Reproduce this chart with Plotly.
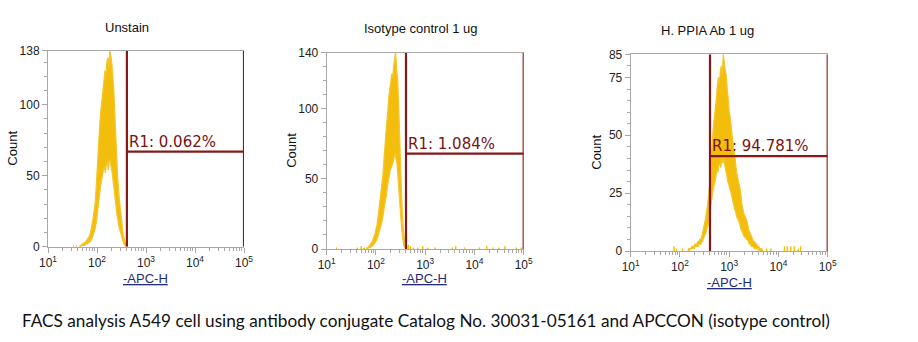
import plotly.graph_objects as go

W, H = 918, 342

# ---------------- data ----------------
TITLES = ["Unstain", "Isotype control 1 ug", "H. PPIA Ab 1 ug"]
GATE_LABELS = ["R1: 0.062%", "R1: 1.084%", "R1: 94.781%"]
Y_MAX = [138, 140, 85]
Y_TICKS = [[0, 50, 100, 138], [0, 50, 100, 140], [0, 25, 50, 75, 85]]
Y_MINOR = [10, 10, 5]
X_TICK_VALS = [10, 100, 1000, 10000, 100000]
X_TICK_TEXT = ["10<sup>1</sup>", "10<sup>2</sup>", "10<sup>3</sup>", "10<sup>4</sup>", "10<sup>5</sup>"]
X_TITLE = "-APC-H"
Y_TITLE = "Count"
CAPTION = "FACS analysis A549 cell using antibody conjugate Catalog No. 30031-05161 and APCCON (isotype control)"

GATE_LOG = [2.61, 2.61, 2.61]      # log10 of gate left edge
GATE_END = 100000                   # gate right edge
GATE_LEVEL = [67, 68, 41]

BIN_STEP = 0.01  # decades per channel

# panel 1 (Unstain)
P1_START = 1.64
P1_UPPER = [0, 1, 1, 2, 2, 3, 3, 4, 5, 6,
            7, 9, 12, 16, 20, 25, 30, 40, 52, 64,
            76, 88, 96, 103, 109, 116, 124, 120, 130, 133,
            126, 138, 135, 130, 122, 112, 98, 80, 66, 50,
            40, 32, 26, 20, 13, 8, 5, 2, 1, 0]
P1_LOWER = [0, 0, 1, 1, 1, 1, 2, 2, 2, 3,
            3, 4, 5, 7, 9, 11, 14, 18, 24, 30,
            36, 42, 46, 50, 54, 56, 52, 58, 60, 54,
            62, 60, 56, 52, 46, 40, 34, 28, 22, 18,
            14, 11, 9, 6, 4, 2, 1, 0, 0]
P1_TAIL_LOG = [1.52, 1.58]
P1_TAIL_CNT = [1, 1]

# panel 2 (Isotype control)
P2_START = 1.80
P2_UPPER = [0, 1, 1, 2, 3, 4, 5, 7, 9, 11,
            14, 17, 22, 28, 34, 40, 46, 52, 62, 72,
            82, 90, 98, 108, 114, 118, 125, 122, 130, 136,
            140, 128, 122, 104, 82, 60, 40, 22, 12, 5,
            2, 3, 1]
P2_LOWER = [0, 0, 1, 1, 1, 2, 2, 3, 4, 5,
            6, 8, 10, 13, 15, 18, 21, 25, 30, 34,
            38, 44, 48, 52, 56, 58, 60, 62, 66, 68,
            64, 60, 50, 40, 30, 20, 12, 6, 2, 1,
            1, 0]
P2_TAIL_LOG = [1.20, 1.62, 1.70, 1.76, 2.66, 2.70, 2.76, 2.85, 2.95, 3.05, 3.20,
               3.55, 3.62, 3.80, 4.10, 4.25, 4.38, 4.50, 4.62, 4.85, 4.95]
P2_TAIL_CNT = [1, 1, 2, 1, 3, 2, 1, 1, 2, 1, 1,
               1, 2, 1, 1, 2, 1, 1, 2, 1, 1]

# panel 3 (H. PPIA Ab)
P3_START = 2.16
P3_UPPER = [0, 1, 1, 1, 2, 2, 2, 3, 3, 3,
            4, 4, 5, 5, 6, 8, 10, 12, 14, 17,
            20, 24, 28, 34, 42, 48, 54, 58, 62, 66,
            72, 75, 72, 78, 80, 76, 85, 82, 78, 76,
            70, 66, 60, 58, 54, 50, 46, 43, 40, 36,
            33, 31, 29, 27, 24, 20, 18, 16, 15, 14,
            13, 11, 9, 8, 7, 6, 5, 4, 4, 3,
            3, 2, 2, 1, 1, 1, 0, 0]
P3_LOWER = [0, 0, 1, 1, 1, 1, 1, 2, 2, 2,
            2, 3, 3, 3, 4, 5, 6, 7, 8, 10,
            11, 13, 16, 20, 23, 26, 28, 30, 32, 35,
            34, 37, 38, 36, 40, 38, 40, 37, 35, 33,
            30, 29, 27, 26, 24, 22, 20, 18, 17, 15,
            14, 13, 12, 10, 9, 8, 7, 6, 6, 5,
            5, 4, 3, 3, 2, 2, 2, 1, 1, 1,
            1, 1, 0, 0, 0, 0, 0]
P3_TAIL_LOG = [1.88, 1.93, 2.05, 3.76, 3.85, 4.12, 4.18, 4.25, 4.32, 4.40, 4.45]
P3_TAIL_CNT = [2, 1, 1, 1, 1, 2, 2, 2, 2, 1, 2]

PANELS = [
    (P1_START, P1_UPPER, P1_LOWER, P1_TAIL_LOG, P1_TAIL_CNT),
    (P2_START, P2_UPPER, P2_LOWER, P2_TAIL_LOG, P2_TAIL_CNT),
    (P3_START, P3_UPPER, P3_LOWER, P3_TAIL_LOG, P3_TAIL_CNT),
]

# ---------------- layout geometry (pixels) ----------------
BOXES = [(48, 244, 50.7, 246.7), (326.7, 523.7, 52.7, 249), (630.7, 827.7, 54.3, 251)]
TITLE_POS = [(127, 27), (420, 28.5), (707, 30)]
XTITLE_POS = [(145, 278), (424, 278), (729, 282)]
YTITLE_X = [13, 292, 597]

HIST_COLOR = "#F3BD0C"
EDGE_COLOR = "#F6C52A"
GATE_COLOR = "#861818"
AXIS_COLOR = "#A8A8A8"


def px(x):
    return x / W


def py(y):
    return 1 - y / H


def env_xy(start, vals, offset):
    return [10 ** (start + 2 * BIN_STEP * i + offset) for i in range(len(vals))], list(vals)


def tail_xy(logs, cnts):
    xs, ys = [], []
    for p, c in zip(logs, cnts):
        xs += [10 ** (p - 0.006), 10 ** p, 10 ** (p + 0.006), None]
        ys += [0, c, 0, None]
    return xs, ys


fig = go.Figure()
annotations = []

for k, (start, up, lo, tl, tc) in enumerate(PANELS):
    xa = "x" if k == 0 else f"x{k+1}"
    ya = "y" if k == 0 else f"y{k+1}"
    lx, ly = env_xy(start, lo, BIN_STEP)
    ux, uy = env_xy(start, up, 0)
    fig.add_trace(go.Scatter(x=lx, y=ly, mode="lines", xaxis=xa, yaxis=ya,
                             line=dict(color=EDGE_COLOR, width=1.2, simplify=False),
                             showlegend=False, hoverinfo="skip"))
    fig.add_trace(go.Scatter(x=ux, y=uy, mode="lines", xaxis=xa, yaxis=ya,
                             fill="tonexty", fillcolor=HIST_COLOR,
                             line=dict(color=EDGE_COLOR, width=1.2, simplify=False),
                             showlegend=False, hoverinfo="skip"))
    txs, tys = tail_xy(tl, tc)
    fig.add_trace(go.Scatter(x=txs, y=tys, mode="lines", xaxis=xa, yaxis=ya,
                             line=dict(color=HIST_COLOR, width=1, simplify=False),
                             showlegend=False, hoverinfo="skip"))
    g = 10 ** GATE_LOG[k]
    top = Y_MAX[k]
    lvl = GATE_LEVEL[k]
    fig.add_trace(go.Scatter(
        x=[g, g, None, g, GATE_END, None, GATE_END, GATE_END],
        y=[0, top, None, lvl, lvl, None, 0, top],
        mode="lines", xaxis=xa, yaxis=ya, cliponaxis=False,
        line=dict(color=GATE_COLOR, width=2.2), showlegend=False, hoverinfo="skip"))

    l, r, t, b = BOXES[k]
    xkey = "xaxis" if k == 0 else f"xaxis{k+1}"
    ykey = "yaxis" if k == 0 else f"yaxis{k+1}"
    fig.update_layout(**{
        xkey: dict(domain=[px(l), px(r)], anchor=ya, type="log", range=[1, 5],
                   automargin=False,
                   showline=True, linecolor=AXIS_COLOR, linewidth=1, mirror=True,
                   ticks="outside", ticklen=5, tickcolor=AXIS_COLOR,
                   tickvals=X_TICK_VALS, ticktext=X_TICK_TEXT,
                   tickfont=dict(family="Liberation Sans, Arial", size=12, color="#222"),
                   showgrid=False, zeroline=False,
                   minor=dict(ticks="outside", ticklen=3, tickcolor=AXIS_COLOR,
                              dtick="D1", showgrid=False)),
        ykey: dict(domain=[py(b), py(t)], anchor=xa, range=[0, Y_MAX[k]],
                   automargin=False,
                   showline=True, linecolor=AXIS_COLOR, linewidth=1,
                   ticks="outside", ticklen=5, tickcolor=AXIS_COLOR,
                   tickvals=Y_TICKS[k],
                   tickfont=dict(family="Liberation Sans, Arial", size=12, color="#222"),
                   showgrid=False, zeroline=False,
                   minor=dict(ticks="outside", ticklen=3, tickcolor=AXIS_COLOR,
                              dtick=Y_MINOR[k], tick0=0, showgrid=False)),
    })

    tx, ty = TITLE_POS[k]
    annotations.append(dict(text=TITLES[k], x=px(tx), y=py(ty), xref="paper", yref="paper",
                            xanchor="center", yanchor="middle", showarrow=False,
                            font=dict(family="Liberation Sans, Arial", size=13, color="#111")))
    xx, xy = XTITLE_POS[k]
    annotations.append(dict(text=f"<u>{X_TITLE}</u>", x=px(xx), y=py(xy), xref="paper", yref="paper",
                            xanchor="center", yanchor="middle", showarrow=False,
                            font=dict(family="Liberation Sans, Arial", size=13, color="#1F2B7A")))
    annotations.append(dict(text=Y_TITLE, x=px(YTITLE_X[k]), y=py((t + b) / 2), xref="paper", yref="paper",
                            xanchor="center", yanchor="middle", showarrow=False, textangle=-90,
                            font=dict(family="Liberation Sans, Arial", size=13, color="#111")))
    annotations.append(dict(text=GATE_LABELS[k], x=GATE_LOG[k], y=lvl, xref=xa, yref=ya,
                            xanchor="left", yanchor="bottom", showarrow=False, xshift=0, yshift=-1,
                            font=dict(family="DejaVu Sans", size=15, color="#7A1212")))

annotations.append(dict(text=CAPTION, x=px(20), y=py(320), xref="paper", yref="paper",
                        xanchor="left", yanchor="middle", showarrow=False,
                        font=dict(family="Lato", size=17.2, color="#111")))

fig.update_layout(width=W, height=H, margin=dict(l=0, r=0, t=0, b=0),
                  paper_bgcolor="white", plot_bgcolor="white",
                  annotations=annotations, showlegend=False)

fig.write_html("out.html")
